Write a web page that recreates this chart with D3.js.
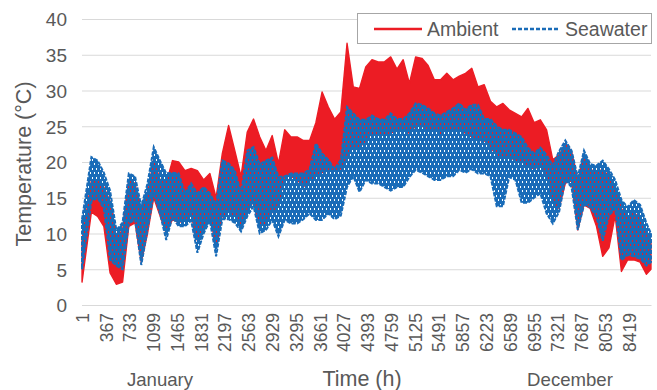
<!DOCTYPE html>
<html>
<head>
<meta charset="utf-8">
<script src="https://cdn.jsdelivr.net/npm/d3@7"></script>
<style>
  body { margin: 0; background: #fff; }
  svg { display: block; font-family: "Liberation Sans", Arial, Helvetica, sans-serif; }
</style>
</head>
<body>
<svg id="chart" width="657" height="390"></svg>
<script>
// Hourly temperatures over one year (8760 h), summarised as the high and low
// reading of each 4-day block (92 blocks; the last block is one day long).
const hoursPerBlock = 96;
const totalHours = 8760;

const ambientHigh = [9, 17.5, 17.5, 16.5, 14.5, 9.5, 10.5, 17.5, 17, 13,
  15.5, 20.5, 17.5, 17, 20.2, 20, 18.8, 19.1, 18.8, 17.5,
  18.4, 15, 21.2, 25.1, 21.6, 18, 24.2, 26, 23.5, 21.6,
  23.7, 19.8, 24.5, 23.5, 23.5, 23, 23, 25.5, 29.8, 27.7,
  26, 27, 36.6, 30.5, 30.3, 33.3, 34.3, 34, 34, 34.7,
  33, 34.3, 31, 34.7, 34.5, 33.5, 31.5, 31.5, 32.4, 31.5,
  32, 32.4, 33.1, 30.5, 30.8, 28.5, 27.7, 28.2, 27.3, 26.8,
  26.3, 27.5, 25.5, 25.9, 24.5, 20.3, 21, 22.5, 21.5, 17.5,
  21, 19, 18.5, 19, 18, 16.5, 13.5, 12, 13, 12,
  10.5, 9];
const ambientLow = [3.2, 13, 12.4, 11, 4.5, 2.9, 3.2, 11, 11.5, 6,
  10, 15, 12.5, 10, 12, 11.5, 12, 12.5, 9, 10.5,
  12.5, 8, 12.5, 13, 12.5, 11, 13, 14.5, 11, 11.5,
  13, 14, 18, 18, 17.5, 16.5, 17.5, 18, 18.5, 19,
  18.9, 19, 21, 22, 22, 23, 24, 24, 24, 24,
  24.5, 24.5, 24, 25, 25, 24.5, 24.5, 24, 24.5, 24.5,
  24.5, 24, 23.5, 23, 23, 22, 21, 20.5, 21, 20,
  20, 19.5, 19, 19.5, 18.5, 14.5, 13.5, 17, 17.5, 10.5,
  14, 13.5, 11, 6.8, 8, 12.5, 4.7, 6.3, 6.3, 6,
  4.3, 5];
const seawaterHigh = [12, 20.7, 20.2, 18.5, 16, 10.5, 11.5, 18.4, 18, 13.8,
  17, 22.1, 20.2, 18.4, 18.5, 18.4, 15.6, 17, 15.6, 16.5,
  15.6, 14, 20.2, 19.8, 18.8, 15.6, 21.6, 22.1, 19.7, 20.2,
  20.6, 17.9, 18, 18.4, 18.4, 18.4, 19, 22.6, 21.2, 20.3,
  19, 20.3, 27.7, 26.8, 25.9, 25.9, 26.5, 26, 25.9, 26.8,
  26, 26, 26.8, 28.2, 28, 27.5, 26.8, 26.5, 27, 27.5,
  28.2, 27.3, 28, 28, 26, 26, 25, 24.5, 24.5, 24,
  23.5, 22, 21.2, 22, 21, 19.5, 21.5, 23, 21.6, 17.9,
  21.6, 19.7, 19.5, 20.2, 19, 17.5, 14.7, 13.7, 14.7, 14,
  11.5, 10];
const seawaterLow = [5, 14.5, 15, 13.5, 6.3, 5.5, 5, 11.4, 12, 5.6,
  10.5, 15.6, 12.8, 9.1, 12.3, 11, 11, 11.8, 7.3, 10,
  11.8, 6.8, 12, 12, 11.5, 10.3, 12.4, 13.8, 10, 10.5,
  11.9, 9.6, 11.9, 11.4, 11.4, 12, 12.8, 11.9, 11.9, 12.8,
  12, 12.5, 16.5, 18, 15.8, 17.5, 17, 17, 16.5, 16,
  16.5, 16.5, 17.9, 18.9, 18.5, 18, 17.5, 17.5, 18, 18,
  18.9, 18.5, 19, 18.4, 18.4, 18, 13.8, 13.8, 17.9, 17.5,
  14.3, 14.3, 15, 15.6, 12.8, 11.4, 13, 17.5, 16.5, 10.5,
  14, 13.7, 12.3, 9, 12.5, 13.5, 6.3, 7, 6.8, 6.5,
  5.5, 6];

// Category labels on the time axis (every 366 h) and the y ticks.
const hourTicks = d3.range(0, 24).map(i => 1 + 366 * i);
const tempTicks = [0, 5, 10, 15, 20, 25, 30, 35, 40];

const seriesNames = ["Ambient", "Seawater"];
const seriesColors = ["#EC1C24", "#1A6CB8"];

const svg = d3.select("#chart");
const plot = { left: 82, right: 651, top: 19, bottom: 305 };

const x = d3.scaleLinear().domain([0.5, totalHours + 0.5]).range([plot.left, plot.right]);
const y = d3.scaleLinear().domain([0, 40]).range([plot.bottom, plot.top]);

// Dashed-line texture used to fill the seawater daily-range band
const defs = svg.append("defs");
const pat = defs.append("pattern")
  .attr("id", "seaDash")
  .attr("patternUnits", "userSpaceOnUse")
  .attr("width", 4).attr("height", 9);
pat.append("path")
  .attr("d", "M0,0h4v9h-4z M0,6h1v2h-1z M2,1h1v2h-1z")
  .attr("fill-rule", "evenodd")
  .attr("fill", seriesColors[1]);

// One record per block: time position plus the block's low and high.
function blocks(high, low) {
  const last = high.length - 1;
  return high.map((h, k) => ({
    t: k === 0 ? 1 : k === last ? totalHours : 1 + k * hoursPerBlock + hoursPerBlock / 2,
    hi: h,
    lo: low[k]
  }));
}

// Gridlines + y labels
const yAxis = d3.axisLeft(y)
  .tickValues(tempTicks)
  .tickSize(-(plot.right - plot.left))
  .tickPadding(15)
  .tickFormat(d3.format("d"));
const gy = svg.append("g").attr("transform", `translate(${plot.left},0)`).call(yAxis);
gy.select(".domain").remove();
gy.selectAll(".tick line").attr("stroke", "#D9D9D9").attr("stroke-width", 1);
gy.selectAll(".tick text")
  .attr("fill", "#595959")
  .style("font-size", "19px")
  .attr("dy", "0.36em");

// Time axis with rotated labels
const xAxis = d3.axisBottom(x).tickValues(hourTicks).tickSize(0).tickFormat(d3.format("d"));
const gx = svg.append("g").attr("transform", `translate(0,${plot.bottom})`).call(xAxis);
gx.select(".domain").attr("stroke", "#D9D9D9");
gx.selectAll(".tick text")
  .attr("fill", "#595959")
  .style("font-size", "17.5px")
  .attr("transform", "rotate(-90)")
  .attr("text-anchor", "end")
  .attr("x", -8)
  .attr("y", 0)
  .attr("dy", "0.36em");

// Daily-range bands of each series
const band = d3.area()
  .x(d => x(d.t))
  .y0(d => y(d.lo))
  .y1(d => y(d.hi));

svg.append("path")
  .datum(blocks(ambientHigh, ambientLow))
  .attr("fill", seriesColors[0])
  .attr("stroke", seriesColors[0])
  .attr("stroke-width", 1.4)
  .attr("stroke-linejoin", "round")
  .attr("d", band);

svg.append("path")
  .datum(blocks(seawaterHigh, seawaterLow))
  .attr("fill", "url(#seaDash)")
  .attr("stroke", seriesColors[1])
  .attr("stroke-width", 2)
  .attr("stroke-dasharray", "4,1.5")
  .attr("d", band);

// Axis titles
svg.append("text")
  .attr("transform", "translate(31,164) rotate(-90)")
  .attr("text-anchor", "middle")
  .attr("fill", "#595959")
  .style("font-size", "21.5px")
  .text("Temperature (°C)");

svg.append("text")
  .attr("x", 362).attr("y", 386)
  .attr("text-anchor", "middle")
  .attr("fill", "#595959")
  .style("font-size", "21.5px")
  .text("Time (h)");

svg.append("text")
  .attr("x", 160).attr("y", 386)
  .attr("text-anchor", "middle")
  .attr("fill", "#595959")
  .style("font-size", "18.6px")
  .text("January");

svg.append("text")
  .attr("x", 570).attr("y", 386)
  .attr("text-anchor", "middle")
  .attr("fill", "#595959")
  .style("font-size", "18.6px")
  .text("December");

// Legend
const legend = svg.append("g");
legend.append("rect")
  .attr("x", 357.5).attr("y", 13.5)
  .attr("width", 294).attr("height", 30)
  .attr("fill", "#fff")
  .attr("stroke", "#A6A6A6");
const legendItems = [
  { x1: 374, x2: 422, tx: 427, dash: null },
  { x1: 512, x2: 560, tx: 565, dash: "4,2" }
];
legendItems.forEach((it, i) => {
  legend.append("line")
    .attr("x1", it.x1).attr("x2", it.x2)
    .attr("y1", 29).attr("y2", 29)
    .attr("stroke", seriesColors[i])
    .attr("stroke-width", 2.4)
    .attr("stroke-dasharray", it.dash);
  legend.append("text")
    .attr("x", it.tx).attr("y", 29)
    .attr("dy", "0.35em")
    .attr("fill", "#595959")
    .style("font-size", "19.5px")
    .text(seriesNames[i]);
});
</script>
</body>
</html>
